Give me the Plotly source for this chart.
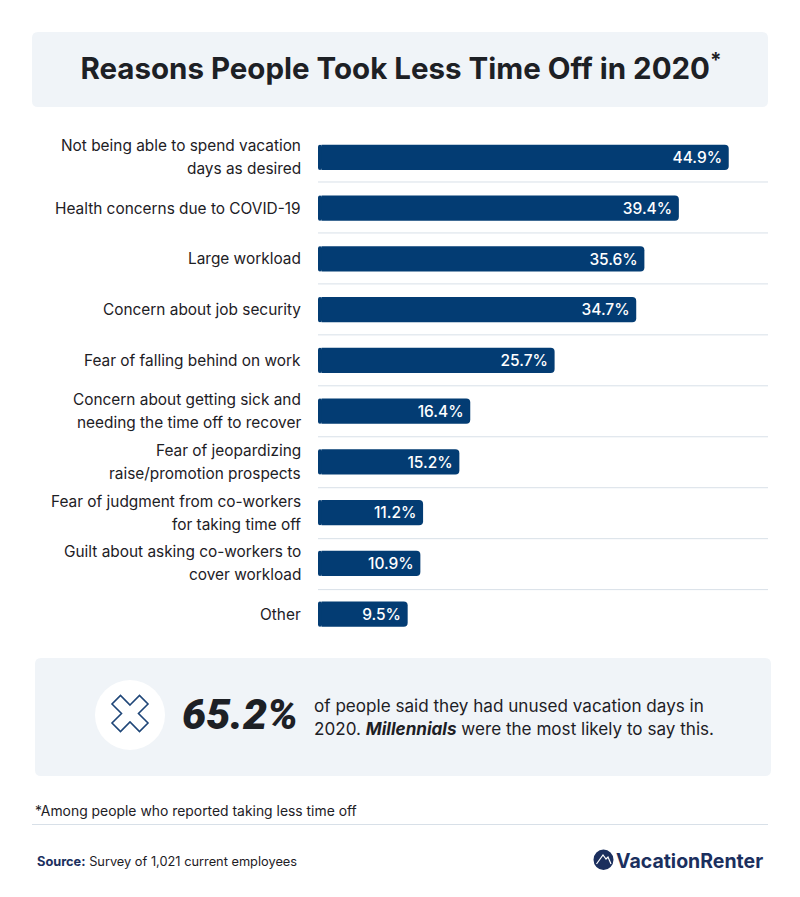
import plotly.graph_objects as go

categories = [
    "Not being able to spend vacation<br>days as desired",
    "Health concerns due to COVID-19",
    "Large workload",
    "Concern about job security",
    "Fear of falling behind on work",
    "Concern about getting sick and<br>needing the time off to recover",
    "Fear of jeopardizing<br>raise/promotion prospects",
    "Fear of judgment from co-workers<br>for taking time off",
    "Guilt about asking co-workers to<br>cover workload",
    "Other",
]
values = [44.9, 39.4, 35.6, 34.7, 25.7, 16.4, 15.2, 11.2, 10.9, 9.5]

# The page has an 8px body margin: the figure is sized to fit and positions stay in window pixels.
OFFSET = 8
W, H = 784, 881
FONT = "Inter"
INK = "#1d2025"
NAVY = "#033c73"
PANEL = "#f0f4f8"
RULE = "#d8e0e8"
LOGO = "#1b2f5e"
PX_PER_UNIT = 9.07
ZERO_X = 321.5
CAP_PX = 3.5
CAP_OVERLAP = 0.5
LABEL_LEADING = 23


def px(x):
    return (x - OFFSET) / W


def py(y):
    return 1 - (y - OFFSET) / H


def rounded(x0, y0, x1, y1, r):
    return (
        f"M{px(x0+r)},{py(y0)} L{px(x1-r)},{py(y0)} Q{px(x1)},{py(y0)} {px(x1)},{py(y0+r)} "
        f"L{px(x1)},{py(y1-r)} Q{px(x1)},{py(y1)} {px(x1-r)},{py(y1)} "
        f"L{px(x0+r)},{py(y1)} Q{px(x0)},{py(y1)} {px(x0)},{py(y1-r)} "
        f"L{px(x0)},{py(y0+r)} Q{px(x0)},{py(y0)} {px(x0+r)},{py(y0)} Z"
    )


def paper_path(path, **kw):
    return dict(type="path", xref="paper", yref="paper", path=path, layer="below", **kw)


shapes = [
    paper_path(rounded(32, 32, 768, 107, 6), fillcolor=PANEL, line_width=0),
    paper_path(rounded(35, 658, 771, 776, 6), fillcolor=PANEL, line_width=0),
    dict(type="circle", xref="paper", yref="paper", x0=px(95), x1=px(165), y0=py(680), y1=py(750),
         fillcolor="white", line_width=0, layer="below"),
    dict(type="line", xref="paper", yref="paper", x0=px(32), x1=px(768), y0=py(824.5), y1=py(824.5),
         line=dict(color=RULE, width=1)),
]

# Crossed-out icon
cx, cy, d, a = 130, 713.5, 18, 8.5
pts = [(0, -a), (d - a, -d), (d, -d + a), (a, 0), (d, d - a), (d - a, d),
       (0, a), (-d + a, d), (-d, d - a), (-a, 0), (-d, -d + a), (-d + a, -d)]
icon = "M" + " L".join(f"{px(cx+u)},{py(cy+v)}" for u, v in pts) + " Z"
shapes.append(dict(type="path", xref="paper", yref="paper", path=icon,
                   fillcolor="rgba(0,0,0,0)", line=dict(color="#1f4678", width=1.6)))

# Logo badge
shapes.append(dict(type="circle", xref="paper", yref="paper", x0=px(593.5), x1=px(613.5),
                   y0=py(849.5), y1=py(870), fillcolor=LOGO, line_width=0))
peak = [(596.5, 864), (603, 855), (606, 859), (608, 857), (611, 864)]
shapes.append(dict(type="path", xref="paper", yref="paper",
                   path="M" + " L".join(f"{px(u)},{py(v)}" for u, v in peak),
                   fillcolor="rgba(0,0,0,0)", line=dict(color="white", width=1.2)))

# Row separators between bars
for i in range(len(categories) - 1):
    sep = i * 1.004 + 0.485
    shapes.append(dict(type="line", xref="x domain", yref="y", x0=0, x1=1, y0=sep, y1=sep,
                       line=dict(color=RULE, width=1), layer="below"))

fig = go.Figure()
# Rounded left end of each bar (plotly rounds only the far end of a bar)
fig.add_trace(go.Bar(
    x=[-(CAP_PX + CAP_OVERLAP) / PX_PER_UNIT] * len(categories),
    base=[CAP_OVERLAP / PX_PER_UNIT] * len(categories),
    y=categories,
    orientation="h",
    marker=dict(color=NAVY, line_width=0, cornerradius=3.5),
    width=0.5,
    hoverinfo="skip",
    name="Bar end",
))
fig.add_trace(go.Bar(
    x=values,
    y=categories,
    orientation="h",
    marker=dict(color=NAVY, line_width=0, cornerradius=4),
    width=0.5,
    text=[f"{v:.1f}%\u2009" for v in values],
    textposition="inside",
    insidetextanchor="end",
    textangle=0,
    constraintext="none",
    textfont=dict(family=FONT, size=16, color="white", weight=500),
    hoverinfo="skip",
    name="Share of respondents",
))


def note(x, y, text, size, color=INK, anchor="left", family=FONT, **font):
    return dict(xref="paper", yref="paper", x=px(x), y=py(y), text=text, showarrow=False,
                xanchor=anchor, yanchor="middle", align="left",
                font=dict(family=family, size=size, color=color, **font))


# Category labels, one annotation per line so the leading can follow the reference
label_notes = []
for cat in categories:
    lines = cat.split("<br>")
    for j, line in enumerate(lines):
        label_notes.append(dict(
            xref="paper", yref="y", x=px(302.5), y=cat, text=line, showarrow=False,
            xanchor="right", yanchor="middle", align="right",
            yshift=((len(lines) - 1) / 2 - j) * LABEL_LEADING,
            font=dict(family=FONT, size=15.4, color=INK),
        ))

fig.update_layout(
    width=W, height=H,
    margin=dict(l=0, r=0, t=0, b=0),
    paper_bgcolor="white", plot_bgcolor="white",
    showlegend=False,
    barmode="overlay",
    font=dict(family=FONT, color=INK),
    title=dict(text="<b>Reasons People Took Less Time Off in 2020<sup>*</sup></b>",
               x=px(401), xanchor="center", y=py(69), yanchor="middle",
               font=dict(family=FONT, size=29.5, color=INK)),
    xaxis=dict(domain=[px(318), px(768)],
               range=[(318 - ZERO_X) / PX_PER_UNIT, (768 - ZERO_X) / PX_PER_UNIT], visible=False),
    yaxis=dict(domain=[py(639.5), py(132)], type="category", autorange=False, range=[9.5, -0.5],
               showgrid=False, showline=False, showticklabels=False, ticks=""),
    shapes=shapes,
    annotations=label_notes + [
        note(180, 714, "65.2%", 43, family="Roboto", weight=900, style="italic"),
        note(312, 705.5, "of people said they had unused vacation days in", 17.1),
        note(312, 728.5, "2020. <b><i>Millennials</i></b> were the most likely to say this.", 17.1),
        note(33, 811, "*Among people who reported taking less time off", 13.9),
        note(35, 861, f"<b><span style='color:{LOGO}'>Source:</span></b> Survey of 1,021 current employees", 12.8),
        note(613.5, 860.5, "VacationRenter", 19.5, color=LOGO, weight=700),
    ],
)

fig.write_html("out.html")
